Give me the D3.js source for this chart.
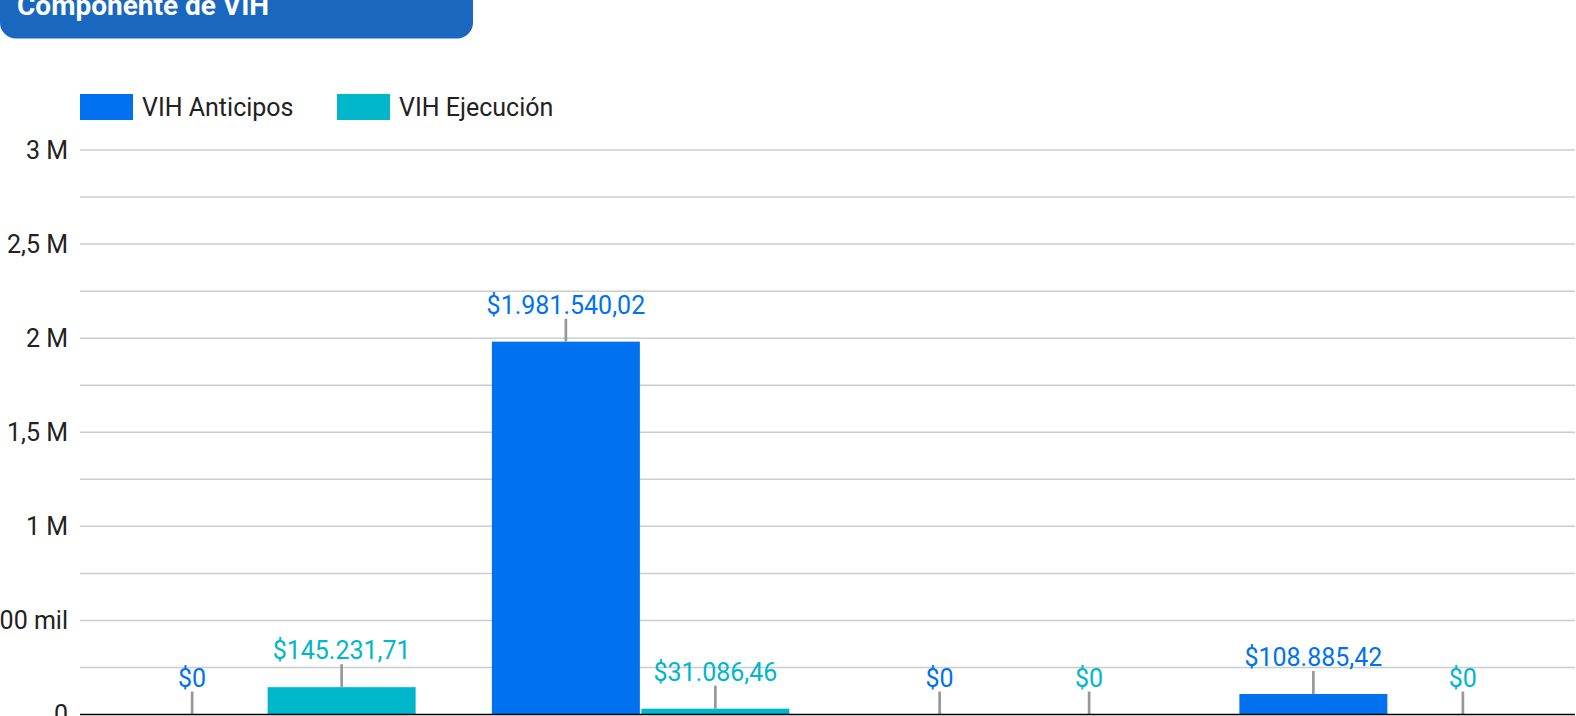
<!DOCTYPE html>
<html>
<head>
<meta charset="utf-8">
<script src="https://cdn.jsdelivr.net/npm/d3@7"></script>
<style>
  html, body { margin: 0; padding: 0; background: #fff; overflow: hidden; }
  svg { display: block; font-family: Roboto, "Noto Sans", sans-serif; }
</style>
</head>
<body>
<svg id="chart" width="1576" height="716"></svg>
<script>
// ---- data ----
const title = "Componente de VIH";
const categories = ["Grupo 1", "Grupo 2", "Grupo 3", "Grupo 4"];
const seriesNames = ["VIH Anticipos", "VIH Ejecución"];
const anticipos = [0, 1981540.02, 0, 108885.42];
const ejecucion = [145231.71, 31086.46, 0, 0];
const yTicks = [0, 500000, 1000000, 1500000, 2000000, 2500000, 3000000];
const yTickLabels = ["0", "500 mil", "1 M", "1,5 M", "2 M", "2,5 M", "3 M"];
const gridTicks = [0, 250000, 500000, 750000, 1000000, 1250000, 1500000, 1750000, 2000000, 2250000, 2500000, 2750000, 3000000];
const colors = ["#0072f0", "#00b6cb"];

(function () {
const svg = d3.select("#chart");
const pLeft = 80, pRight = 1575, pTop = 150, pBottom = 714.5;

const x0 = d3.scaleBand().domain(categories).range([pLeft, pRight]).paddingInner(0.2).paddingOuter(0.1);
const x1 = d3.scaleBand().domain(seriesNames).range([0, x0.bandwidth()]).padding(0);
const y = d3.scaleLinear().domain([0, 3000000]).range([pBottom, pTop]);

const locale = d3.formatLocale({decimal: ",", thousands: ".", grouping: [3], currency: ["$", ""]});
const fmt = v => v === 0 ? "$0" : locale.format("$,.2f")(v);

// title box
svg.append("rect").attr("x", 0).attr("y", -40).attr("width", 473).attr("height", 78.5)
  .attr("rx", 16).attr("fill", "#1967be");
svg.append("text").attr("x", 17).attr("y", 15).attr("fill", "#fff")
  .attr("font-size", 28).attr("font-weight", 700).text(title);

// legend
const legX = [80, 337];
seriesNames.forEach((s, i) => {
  svg.append("rect").attr("x", legX[i]).attr("y", 94).attr("width", 53).attr("height", 26).attr("fill", colors[i]);
  svg.append("text").attr("x", legX[i] + 62).attr("y", 107).attr("dy", "0.35em")
    .attr("font-size", 25).attr("fill", "#222").text(s);
});

// grid
svg.append("g").selectAll("line").data(gridTicks.filter(d => d > 0)).join("line")
  .attr("x1", pLeft).attr("x2", pRight).attr("y1", d => y(d)).attr("y2", d => y(d))
  .attr("stroke", "#cccccc").attr("stroke-width", 1.5);

// y axis labels
const yAxis = d3.axisLeft(y).tickValues(yTicks).tickSize(0).tickPadding(0)
  .tickFormat((d, i) => yTickLabels[i]);
const gy = svg.append("g").attr("transform", `translate(68,0)`).call(yAxis);
gy.select(".domain").remove();
gy.selectAll("text").attr("font-size", 25).attr("fill", "#222").attr("font-family", "Roboto, sans-serif");

// bars
const data = categories.map((c, i) => ({cat: c, vals: [anticipos[i], ejecucion[i]]}));
const groups = svg.append("g").selectAll("g").data(data).join("g")
  .attr("transform", d => `translate(${x0(d.cat)},0)`);
groups.selectAll("rect").data(d => d.vals.map((v, i) => ({s: seriesNames[i], v, i}))).join("rect")
  .attr("x", d => x1(d.s) + 0.75).attr("width", x1.bandwidth() - 1.5)
  .attr("y", d => y(d.v)).attr("height", d => y(0) - y(d.v))
  .attr("fill", d => colors[d.i]);

// leader lines + labels
groups.each(function(g) {
  const sel = d3.select(this);
  g.vals.forEach((v, i) => {
    const cx = x1(seriesNames[i]) + x1.bandwidth() / 2;
    const ytop = y(v);
    sel.append("line").attr("x1", cx).attr("x2", cx).attr("y1", ytop).attr("y2", ytop - 23)
      .attr("stroke", "#999").attr("stroke-width", 2.7);
    sel.append("text").attr("x", cx).attr("y", ytop - 28).attr("text-anchor", "middle")
      .attr("font-size", 25).attr("fill", colors[i]).text(fmt(v));
  });
});

// baseline
svg.append("line").attr("x1", pLeft).attr("x2", pRight).attr("y1", y(0)).attr("y2", y(0))
  .attr("stroke", "#000").attr("stroke-width", 1.5);
})();
</script>
</body>
</html>
